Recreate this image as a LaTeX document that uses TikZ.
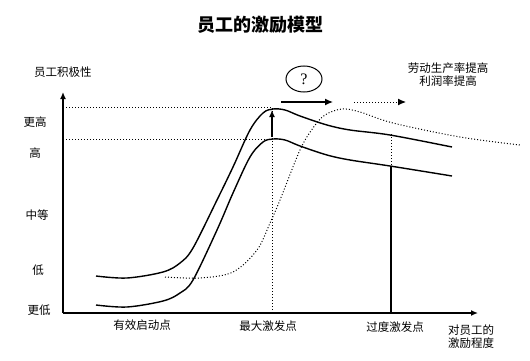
\documentclass[tikz,border=0pt]{standalone}
\usepackage{fontspec}
\setmainfont{Noto Sans CJK SC}
\newfontfamily\qfont{Liberation Serif}
\usetikzlibrary{arrows.meta,shapes.geometric}
\begin{document}
\begin{tikzpicture}[x=1pt,y=-1pt,
  lbl/.style={font=\fontsize{11.5}{13}\selectfont, inner sep=0pt},
  curve/.style={line width=1.4pt},
  dotl/.style={line width=1pt, dotted},
  axis/.style={line width=1.3pt, -{Latex[length=7pt,width=6pt]}},
  arr/.style={line width=1.3pt, -{Latex[length=8pt,width=7pt]}}]
\useasboundingbox (0,0) rectangle (530,361);
% title
\node[inner sep=0pt, font=\fontsize{18}{20}\selectfont\bfseries] (title) at (260,25) {员工的激励模型};
% axes
\coordinate (O) at (63,313);
\coordinate (ytop) at (63,92);
\coordinate (xend) at (478,313);
\draw[axis] (O) -- (ytop);
\draw[axis] (O) -- (xend);
\node[lbl] (ylab) at (63,72) {员工积极性};
\node[lbl] (y1) at (35,122) {更高};
\node[lbl] (y2) at (35,153) {高};
\node[lbl] (y3) at (37,215) {中等};
\node[lbl] (y4) at (38,270) {低};
\node[lbl] (y5) at (39,310) {更低};
\node[lbl] (x1) at (142,325) {有效启动点};
\node[lbl] (x2) at (268,326) {最大激发点};
\node[lbl] (x3) at (395,327) {过度激发点};
\node[lbl, align=left] (x4) at (471,337) {对员工的\\激励程度};
% curves
\draw[curve] plot[smooth, tension=0.55] coordinates {(96,276) (127,278) (163,272) (180,263) (193,248) (217,200) (233,167) (250,130) (263,113) (273,109) (285,110) (300,116) (327,125) (350,130) (390,135) (452,147)};
\draw[curve] plot[smooth, tension=0.55] coordinates {(96,305) (127,307) (163,301) (180,293) (193,280) (217,230) (233,193) (250,157) (263,142) (273,139) (285,140) (300,146) (327,155) (350,160) (390,166) (452,176)};
\draw[dotl] plot[smooth, tension=0.55] coordinates {(165,277) (200,278) (233,272) (257,250) (270,223) (280,200) (300,150) (313,128) (325,115) (342,109) (360,112) (393,123) (460,137) (520,145)};
% reference lines
\coordinate (h1) at (272,107);
\coordinate (h2) at (272,139);
\coordinate (l1) at (63,107);
\coordinate (l2) at (63,139);
\coordinate (vb) at (272,313);
\draw[dotl] (l1) -- (h1);
\draw[dotl] (l2) -- (h2);
\draw[dotl] (vb) -- (h1);
\coordinate (a1) at (272,137);
\coordinate (a2) at (272,110);
\draw[line width=1.3pt, -{Latex[length=7pt,width=6pt]}] (a1) -- (a2);
\coordinate (p1) at (391,134);
\coordinate (p2) at (391,166);
\coordinate (p3) at (391,313);
\draw[dotl] (p1) -- (p2);
\draw[line width=1.3pt] (p2) -- (p3);
% top arrows
\coordinate (s1) at (281,102);
\coordinate (s2) at (333,102);
\coordinate (d1) at (354,102);
\coordinate (d2) at (406,102);
\draw[arr] (s1) -- (s2);
\draw[dotl, -{Latex[length=8pt,width=7pt]}] (d1) -- (d2);
\node[draw, ellipse, line width=1pt, minimum width=36pt, minimum height=26pt, inner sep=0pt, font=\qfont\fontsize{16}{18}\selectfont] (q) at (304,79) {?};
\node[lbl, align=center] (prod) at (448,75) {劳动生产率提高\\利润率提高};
\end{tikzpicture}
\end{document}
